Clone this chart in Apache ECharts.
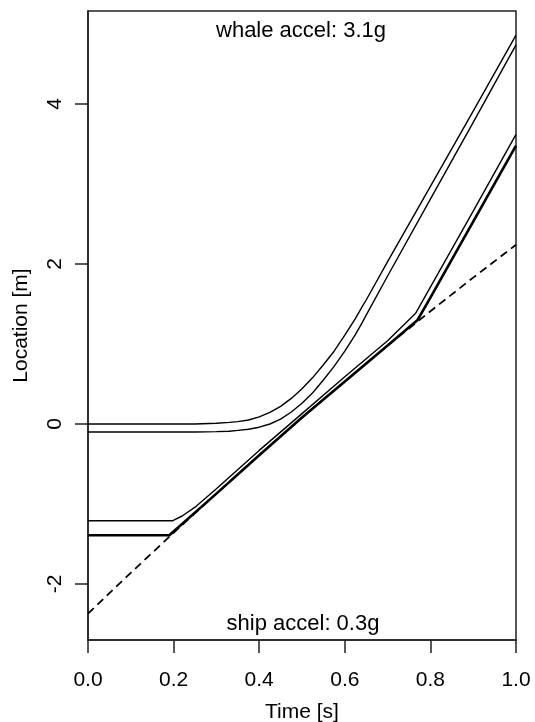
<!DOCTYPE html>
<html>
<head>
<meta charset="utf-8">
<script src="https://cdn.jsdelivr.net/npm/echarts@6/dist/echarts.min.js"></script>
<style>
html,body{margin:0;padding:0;background:#fff;}
#chart{width:535px;height:722px;}
</style>
</head>
<body>
<div id="chart"></div>
<script>
// ---- data ----
var xTicks = [0.0, 0.2, 0.4, 0.6, 0.8, 1.0];
var yTicks = [-2, 0, 2, 4];

// ship path (dashed)
var shipT = [0, 0.1, 0.2, 0.3, 0.4, 0.5, 0.6, 0.7, 0.8, 0.9, 1.0];
var shipY = [-2.37, -1.86, -1.36, -0.87, -0.39, 0.08, 0.53, 0.98, 1.41, 1.83, 2.24];

// whale (upper pair), top edge
var whaleTopT = [0, 0.25, 0.3, 0.33, 0.35, 0.375, 0.4, 0.425, 0.45, 0.475, 0.5, 0.525, 0.55, 0.575, 0.6, 0.625, 0.64, 0.65, 0.7, 0.8, 0.9, 1.0];
var whaleTopY = [0, 0, 0.01, 0.02, 0.03, 0.05, 0.09, 0.145, 0.22, 0.32, 0.44, 0.58, 0.74, 0.91, 1.11, 1.32, 1.46, 1.55, 2.03, 2.97, 3.91, 4.86];
// whale (upper pair), bottom edge
var whaleBotT = [0, 0.25, 0.3, 0.33, 0.35, 0.375, 0.4, 0.425, 0.45, 0.475, 0.5, 0.525, 0.55, 0.575, 0.6, 0.625, 0.64, 0.65, 0.7, 0.8, 0.9, 1.0];
var whaleBotY = [-0.1, -0.1, -0.095, -0.09, -0.08, -0.065, -0.04, 0.0, 0.06, 0.15, 0.26, 0.39, 0.55, 0.72, 0.91, 1.12, 1.26, 1.36, 1.85, 2.81, 3.77, 4.74];

// middle pair, upper thin line
var midTopT = [0, 0.197, 0.22, 0.25, 0.3, 0.4, 0.5, 0.6, 0.7, 0.765, 0.8, 0.9, 1.0];
var midTopY = [-1.21, -1.21, -1.15, -1.04, -0.81, -0.33, 0.13, 0.59, 1.04, 1.38, 1.71, 2.66, 3.62];
// middle pair, lower thick line
var midBotT = [0, 0.19, 0.3, 0.4, 0.5, 0.6, 0.7, 0.77, 0.8, 0.9, 1.0];
var midBotY = [-1.39, -1.39, -0.87, -0.39, 0.08, 0.53, 0.98, 1.30, 1.58, 2.53, 3.48];

var topNote = 'whale accel: 3.1g';
var bottomNote = 'ship accel: 0.3g';

function pairs(t, y) { return t.map(function (v, i) { return [v, y[i]]; }); }

var FONT = 'Liberation Sans, Arial, sans-serif';
var chart = echarts.init(document.getElementById('chart'), null, {renderer: 'canvas'});

function lineSeries(t, y, w, dash) {
  return {
    type: 'line',
    data: pairs(t, y),
    showSymbol: false,
    symbol: 'none',
    silent: true,
    clip: true,
    lineStyle: {color: '#000', width: w, type: dash ? [8, 5] : 'solid'}
  };
}

chart.setOption({
  animation: false,
  backgroundColor: '#fff',
  grid: {left: 88, right: 19, top: 11, bottom: 82, containLabel: false, outerBoundsMode: 'none',
    show: true, borderColor: '#222', borderWidth: 1.5, backgroundColor: 'transparent'},
  xAxis: {
    type: 'value', min: 0, max: 1, interval: 0.2,
    name: 'Time [s]', nameLocation: 'middle', nameGap: 62,
    nameTextStyle: {fontFamily: FONT, fontSize: 21, color: '#000'},
    axisLine: {show: true, onZero: false, lineStyle: {color: '#222', width: 1.5}},
    axisTick: {show: true, inside: false, length: 13, lineStyle: {color: '#222', width: 1.5}},
    axisLabel: {margin: 30, fontFamily: FONT, fontSize: 21, color: '#000',
      formatter: function (v) { return v.toFixed(1); }},
    splitLine: {show: false}
  },
  yAxis: {
    type: 'value', min: -2.7, max: 5.1625,
    name: 'Location [m]', nameLocation: 'middle', nameGap: 56, nameRotate: 90,
    nameTextStyle: {fontFamily: FONT, fontSize: 21, color: '#000'},
    axisLine: {show: true, onZero: false, lineStyle: {color: '#222', width: 1.5}},
    axisTick: {show: true, inside: false, length: 13, customValues: yTicks, lineStyle: {color: '#222', width: 1.5}},
    axisLabel: {show: true, rotate: 90, margin: 22, customValues: yTicks, fontFamily: FONT, fontSize: 21, color: '#000'},
    splitLine: {show: false}
  },
  graphic: [
    {type: 'text', x: 301, y: 31, z: 100,
      style: {text: topNote, font: '22px ' + FONT, fill: '#000', textAlign: 'center', textVerticalAlign: 'middle'}},
    {type: 'text', x: 303, y: 624, z: 100,
      style: {text: bottomNote, font: '22px ' + FONT, fill: '#000', textAlign: 'center', textVerticalAlign: 'middle'}}
  ],
  series: [
    lineSeries(shipT, shipY, 1.8, true),
    lineSeries(whaleTopT, whaleTopY, 1.4, false),
    lineSeries(whaleBotT, whaleBotY, 1.4, false),
    lineSeries(midTopT, midTopY, 1.4, false),
    lineSeries(midBotT, midBotY, 2.6, false)
  ]
});
</script>
</body>
</html>
